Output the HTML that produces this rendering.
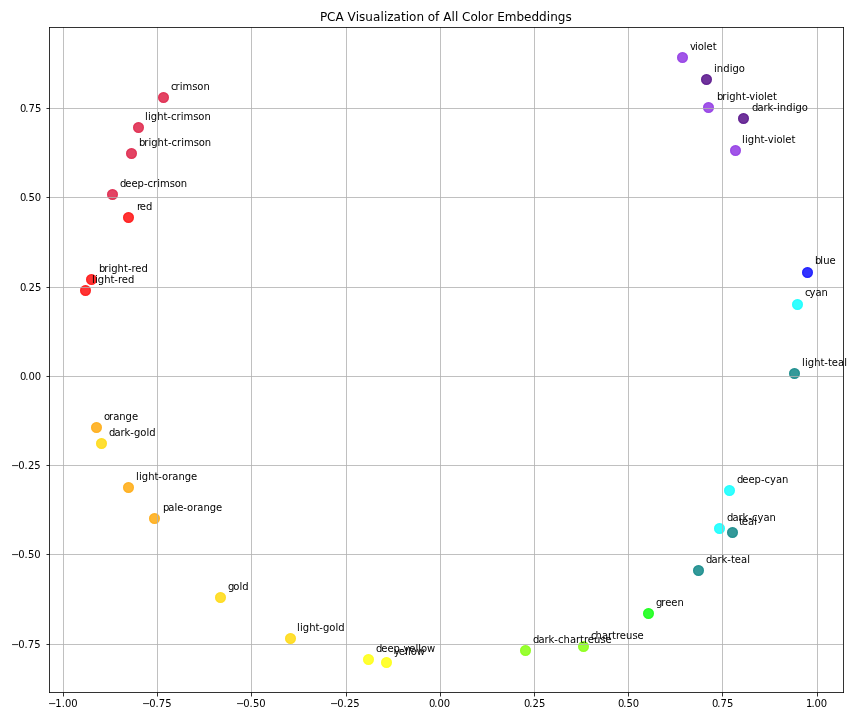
<!DOCTYPE html>
<html lang="en"><head><meta charset="utf-8"><title>PCA Visualization of All Color Embeddings</title>
<style>
html,body{margin:0;padding:0;background:#fff;}
body{width:864px;height:720px;overflow:hidden;}
svg{display:block;font-family:"DejaVu Sans","Liberation Sans",sans-serif;fill:#000;}
.g{stroke:#b0b0b0;stroke-opacity:.8;stroke-width:1;shape-rendering:crispEdges;}
.s{stroke:#333;stroke-width:1;shape-rendering:crispEdges;fill:none;}
.p circle{fill-opacity:.8;}
.p .r{fill:none;stroke-opacity:.8;stroke-width:.5;}
.t{font-size:10px;}
.ttl{font-size:12px;}
</style></head><body>
<svg width="864" height="720" viewBox="0 0 864 720">
<rect width="864" height="720" fill="#fff"/>
<g class="p">
<circle cx="163.5" cy="97.5" r="5.5" fill="rgb(220,20,60)"/><circle class="r" cx="163.5" cy="97.5" r="4.75" stroke="rgb(220,20,60)"/>
<circle cx="138.5" cy="127.5" r="5.5" fill="rgb(220,20,60)"/><circle class="r" cx="138.5" cy="127.5" r="4.75" stroke="rgb(220,20,60)"/>
<circle cx="131.5" cy="153.5" r="5.5" fill="rgb(220,20,60)"/><circle class="r" cx="131.5" cy="153.5" r="4.75" stroke="rgb(220,20,60)"/>
<circle cx="112.5" cy="194.5" r="5.5" fill="rgb(220,20,60)"/><circle class="r" cx="112.5" cy="194.5" r="4.75" stroke="rgb(220,20,60)"/>
<circle cx="128.5" cy="217.5" r="5.5" fill="rgb(255,0,0)"/><circle class="r" cx="128.5" cy="217.5" r="4.75" stroke="rgb(255,0,0)"/>
<circle cx="91.5" cy="279.5" r="5.5" fill="rgb(255,0,0)"/><circle class="r" cx="91.5" cy="279.5" r="4.75" stroke="rgb(255,0,0)"/>
<circle cx="85.5" cy="290.5" r="5.5" fill="rgb(255,0,0)"/><circle class="r" cx="85.5" cy="290.5" r="4.75" stroke="rgb(255,0,0)"/>
<circle cx="96.5" cy="427.5" r="5.5" fill="rgb(255,165,0)"/><circle class="r" cx="96.5" cy="427.5" r="4.75" stroke="rgb(255,165,0)"/>
<circle cx="101.5" cy="443.5" r="5.5" fill="rgb(255,215,0)"/><circle class="r" cx="101.5" cy="443.5" r="4.75" stroke="rgb(255,215,0)"/>
<circle cx="128.5" cy="487.5" r="5.5" fill="rgb(255,165,0)"/><circle class="r" cx="128.5" cy="487.5" r="4.75" stroke="rgb(255,165,0)"/>
<circle cx="154.5" cy="518.5" r="5.5" fill="rgb(255,165,0)"/><circle class="r" cx="154.5" cy="518.5" r="4.75" stroke="rgb(255,165,0)"/>
<circle cx="220.5" cy="597.5" r="5.5" fill="rgb(255,215,0)"/><circle class="r" cx="220.5" cy="597.5" r="4.75" stroke="rgb(255,215,0)"/>
<circle cx="290.5" cy="638.5" r="5.5" fill="rgb(255,215,0)"/><circle class="r" cx="290.5" cy="638.5" r="4.75" stroke="rgb(255,215,0)"/>
<circle cx="368.5" cy="659.5" r="5.5" fill="rgb(255,255,0)"/><circle class="r" cx="368.5" cy="659.5" r="4.75" stroke="rgb(255,255,0)"/>
<circle cx="386.5" cy="662.5" r="5.5" fill="rgb(255,255,0)"/><circle class="r" cx="386.5" cy="662.5" r="4.75" stroke="rgb(255,255,0)"/>
<circle cx="525.5" cy="650.5" r="5.5" fill="rgb(127,255,0)"/><circle class="r" cx="525.5" cy="650.5" r="4.75" stroke="rgb(127,255,0)"/>
<circle cx="583.5" cy="646.5" r="5.5" fill="rgb(127,255,0)"/><circle class="r" cx="583.5" cy="646.5" r="4.75" stroke="rgb(127,255,0)"/>
<circle cx="648.5" cy="613.5" r="5.5" fill="rgb(0,255,0)"/><circle class="r" cx="648.5" cy="613.5" r="4.75" stroke="rgb(0,255,0)"/>
<circle cx="698.5" cy="570.5" r="5.5" fill="rgb(0,128,128)"/><circle class="r" cx="698.5" cy="570.5" r="4.75" stroke="rgb(0,128,128)"/>
<circle cx="732.5" cy="532.5" r="5.5" fill="rgb(0,128,128)"/><circle class="r" cx="732.5" cy="532.5" r="4.75" stroke="rgb(0,128,128)"/>
<circle cx="719.5" cy="528.5" r="5.5" fill="rgb(0,255,255)"/><circle class="r" cx="719.5" cy="528.5" r="4.75" stroke="rgb(0,255,255)"/>
<circle cx="729.5" cy="490.5" r="5.5" fill="rgb(0,255,255)"/><circle class="r" cx="729.5" cy="490.5" r="4.75" stroke="rgb(0,255,255)"/>
<circle cx="794.5" cy="373.5" r="5.5" fill="rgb(0,128,128)"/><circle class="r" cx="794.5" cy="373.5" r="4.75" stroke="rgb(0,128,128)"/>
<circle cx="797.5" cy="304.5" r="5.5" fill="rgb(0,255,255)"/><circle class="r" cx="797.5" cy="304.5" r="4.75" stroke="rgb(0,255,255)"/>
<circle cx="807.5" cy="272.5" r="5.5" fill="rgb(0,0,255)"/><circle class="r" cx="807.5" cy="272.5" r="4.75" stroke="rgb(0,0,255)"/>
<circle cx="735.5" cy="150.5" r="5.5" fill="rgb(138,43,226)"/><circle class="r" cx="735.5" cy="150.5" r="4.75" stroke="rgb(138,43,226)"/>
<circle cx="743.5" cy="118.5" r="5.5" fill="rgb(75,0,130)"/><circle class="r" cx="743.5" cy="118.5" r="4.75" stroke="rgb(75,0,130)"/>
<circle cx="708.5" cy="107.5" r="5.5" fill="rgb(138,43,226)"/><circle class="r" cx="708.5" cy="107.5" r="4.75" stroke="rgb(138,43,226)"/>
<circle cx="706.5" cy="79.5" r="5.5" fill="rgb(75,0,130)"/><circle class="r" cx="706.5" cy="79.5" r="4.75" stroke="rgb(75,0,130)"/>
<circle cx="682.5" cy="57.5" r="5.5" fill="rgb(138,43,226)"/><circle class="r" cx="682.5" cy="57.5" r="4.75" stroke="rgb(138,43,226)"/>
</g>
<g class="g">
<line x1="63.5" y1="28" x2="63.5" y2="692"/>
<line x1="157.5" y1="28" x2="157.5" y2="692"/>
<line x1="251.5" y1="28" x2="251.5" y2="692"/>
<line x1="346.5" y1="28" x2="346.5" y2="692"/>
<line x1="440.5" y1="28" x2="440.5" y2="692"/>
<line x1="534.5" y1="28" x2="534.5" y2="692"/>
<line x1="628.5" y1="28" x2="628.5" y2="692"/>
<line x1="722.5" y1="28" x2="722.5" y2="692"/>
<line x1="817.5" y1="28" x2="817.5" y2="692"/>
<line x1="50" y1="108.5" x2="843" y2="108.5"/>
<line x1="50" y1="197.5" x2="843" y2="197.5"/>
<line x1="50" y1="287.5" x2="843" y2="287.5"/>
<line x1="50" y1="376.5" x2="843" y2="376.5"/>
<line x1="50" y1="465.5" x2="843" y2="465.5"/>
<line x1="50" y1="554.5" x2="843" y2="554.5"/>
<line x1="50" y1="644.5" x2="843" y2="644.5"/>
</g>
<g class="s">
<rect x="49.5" y="27.5" width="794" height="665"/>
</g>
<g fill="#333">
<rect x="63" y="693" width="1" height="3.5"/>
<rect x="157" y="693" width="1" height="3.5"/>
<rect x="251" y="693" width="1" height="3.5"/>
<rect x="346" y="693" width="1" height="3.5"/>
<rect x="440" y="693" width="1" height="3.5"/>
<rect x="534" y="693" width="1" height="3.5"/>
<rect x="628" y="693" width="1" height="3.5"/>
<rect x="722" y="693" width="1" height="3.5"/>
<rect x="817" y="693" width="1" height="3.5"/>
<rect x="46.5" y="108" width="2.5" height="1"/>
<rect x="46.5" y="197" width="2.5" height="1"/>
<rect x="46.5" y="287" width="2.5" height="1"/>
<rect x="46.5" y="376" width="2.5" height="1"/>
<rect x="46.5" y="465" width="2.5" height="1"/>
<rect x="46.5" y="554" width="2.5" height="1"/>
<rect x="46.5" y="644" width="2.5" height="1"/>
</g>
<g shape-rendering="crispEdges">
<rect x="63" y="27" width="1" height="1" fill="#282828"/>
<rect x="63" y="692" width="1" height="1" fill="#1e1e1e"/>
<rect x="157" y="27" width="1" height="1" fill="#282828"/>
<rect x="157" y="692" width="1" height="1" fill="#1e1e1e"/>
<rect x="251" y="27" width="1" height="1" fill="#282828"/>
<rect x="251" y="692" width="1" height="1" fill="#1e1e1e"/>
<rect x="346" y="27" width="1" height="1" fill="#282828"/>
<rect x="346" y="692" width="1" height="1" fill="#1e1e1e"/>
<rect x="440" y="27" width="1" height="1" fill="#282828"/>
<rect x="440" y="692" width="1" height="1" fill="#1e1e1e"/>
<rect x="534" y="27" width="1" height="1" fill="#282828"/>
<rect x="534" y="692" width="1" height="1" fill="#1e1e1e"/>
<rect x="628" y="27" width="1" height="1" fill="#282828"/>
<rect x="628" y="692" width="1" height="1" fill="#1e1e1e"/>
<rect x="722" y="27" width="1" height="1" fill="#282828"/>
<rect x="722" y="692" width="1" height="1" fill="#1e1e1e"/>
<rect x="817" y="27" width="1" height="1" fill="#282828"/>
<rect x="817" y="692" width="1" height="1" fill="#1e1e1e"/>
<rect x="49" y="108" width="1" height="1" fill="#171717"/>
<rect x="49" y="197" width="1" height="1" fill="#171717"/>
<rect x="49" y="287" width="1" height="1" fill="#171717"/>
<rect x="49" y="376" width="1" height="1" fill="#171717"/>
<rect x="49" y="465" width="1" height="1" fill="#171717"/>
<rect x="49" y="554" width="1" height="1" fill="#171717"/>
<rect x="49" y="644" width="1" height="1" fill="#171717"/>
<rect x="49" y="27" width="1" height="1" fill="#131313"/>
<rect x="49" y="692" width="1" height="1" fill="#131313"/>
<rect x="843" y="27" width="1" height="1" fill="#131313"/>
<rect x="843" y="692" width="1" height="1" fill="#131313"/>
</g>
<g class="t">
<text x="47.93 55.31 61.67 65.1 71.21" y="707">−1.00</text>
<text x="141.93 149.31 155.42 158.85 165.21" y="707">−0.75</text>
<text x="235.93 243.31 249.42 253.1 259.21" y="707">−0.50</text>
<text x="329.93 337.31 343.42 347.1 353.21" y="707">−0.25</text>
<text x="428.98 434.35 437.53 443.64" y="707">0.00</text>
<text x="524.12 529.23 532.41 539.02" y="707">0.25</text>
<text x="618.12 623.23 626.41 632.77" y="707">0.50</text>
<text x="712.12 717.23 720.41 727.02" y="707">0.75</text>
<text x="806.12 811.48 814.41 820.77" y="707">1.00</text>
<text x="19.98 25.35 28.53 34.89" y="112">0.75</text>
<text x="19.98 25.35 28.53 34.64" y="201">0.50</text>
<text x="19.98 25.35 28.53 34.89" y="291">0.25</text>
<text x="19.98 25.35 28.53 34.64" y="380">0.00</text>
<text x="11.11 18.23 24.6 28.03 34.14" y="469">−0.25</text>
<text x="11.11 18.23 24.6 28.03 34.14" y="558">−0.50</text>
<text x="11.11 18.23 24.6 27.78 34.14" y="648">−0.75</text>
</g>
<g class="ttl">
<text x="320 327 335.5 344.25 347.5 355.75 359 365.25 373 380.5 384 387.25 393.5 401 405.75 409 416.5 424 427.75 435 439.5 443.25 451.5 455 458.25 462 470.5 477.75 481 488.5 493.25 497.25 504.75 516.5 524 531.5 539 546.75 550.25 557.75 565.5" y="21">PCA Visualization of All Color Embeddings</text>
</g>
<g class="t">
<text x="171 175.5 179.75 182.5 192.25 197.25 203.5" y="90">crimson</text>
<text x="145 148 150.75 157.25 163.5 167.25 171 176.5 180.75 183.5 193.25 198.25 204.5" y="120">light-crimson</text>
<text x="139 144.25 148.5 151.25 157.5 164 168 171.5 177 181.25 184 193.75 198.75 204.75" y="146">bright-crimson</text>
<text x="120 125.25 131.5 137.5 144 147.5 153 157.25 160 169.75 174.75 180.75" y="187">deep-crimson</text>
<text x="137 139.75 146" y="210">red</text>
<text x="99 104.25 108.5 111.25 117.5 124 128 131.5 135.25 141.5" y="272">bright-red</text>
<text x="92 95 97.75 104.25 110.5 114.25 118 121.75 128" y="283">light-red</text>
<text x="104 109 113.25 119.25 125.5 132" y="420">orange</text>
<text x="109 114.5 120.5 124.5 130.25 134 140.25 146.5 149.25" y="436">dark-gold</text>
<text x="136 139 141.75 148.25 154.5 158.25 162 168.25 172.25 178.5 184.75 191" y="480">light-orange</text>
<text x="163 168.25 174.5 177.25 183.25 187 193.25 197.25 203.5 209.75 216" y="511">pale-orange</text>
<text x="228 233.25 239.5 242.25" y="590">gold</text>
<text x="297 300 302.75 309.25 315.5 319.25 323 329.25 335.5 338.25" y="631">light-gold</text>
<text x="376 381.25 387.5 393.5 400 403.5 409.25 415.5 418.25 421 427" y="652">deep-yellow</text>
<text x="394 398.75 405 408 410.75 416.75" y="655">yellow</text>
<text x="533 538.5 544.5 548.5 554.25 558 563.5 570 576 580 584 587.75 594 600.5 605.5" y="643">dark-chartreuse</text>
<text x="591 595.5 602 608 612 616 619.75 626 632.5 637.5" y="639">chartreuse</text>
<text x="656 661.25 665.25 671.25 677.5" y="606">green</text>
<text x="706 711.5 717.5 721.5 727.25 731 734.75 741 747.25" y="563">dark-teal</text>
<text x="739 741.75 748 754.25" y="525">teal</text>
<text x="727 732.5 738.5 742.5 748.25 752 757.5 763.5 769.5" y="521">dark-cyan</text>
<text x="737 742.25 748.5 754.5 761 764.5 770 776 782" y="483">deep-cyan</text>
<text x="802 805 807.75 814.25 820.5 824.25 828 831.75 838 844.25" y="366">light-teal</text>
<text x="805 809.5 815.5 821.5" y="296">cyan</text>
<text x="815 820.25 823.25 829.5" y="264">blue</text>
<text x="742 745 747.75 754.25 760.5 764.25 767.75 773.75 776.5 782.5 785.25 791.5" y="143">light-violet</text>
<text x="752 757.5 763.5 767.5 773.25 777 779.75 786.25 792.75 795.5 801.75" y="111">dark-indigo</text>
<text x="717 722.25 726.5 729.25 735.5 742 746 749.25 755.25 758 764 766.75 773" y="100">bright-violet</text>
<text x="714 716.75 723.25 729.75 732.5 738.75" y="72">indigo</text>
<text x="690 695 697.75 703.75 706.5 712.75" y="50">violet</text>
</g>
</svg></body></html>
